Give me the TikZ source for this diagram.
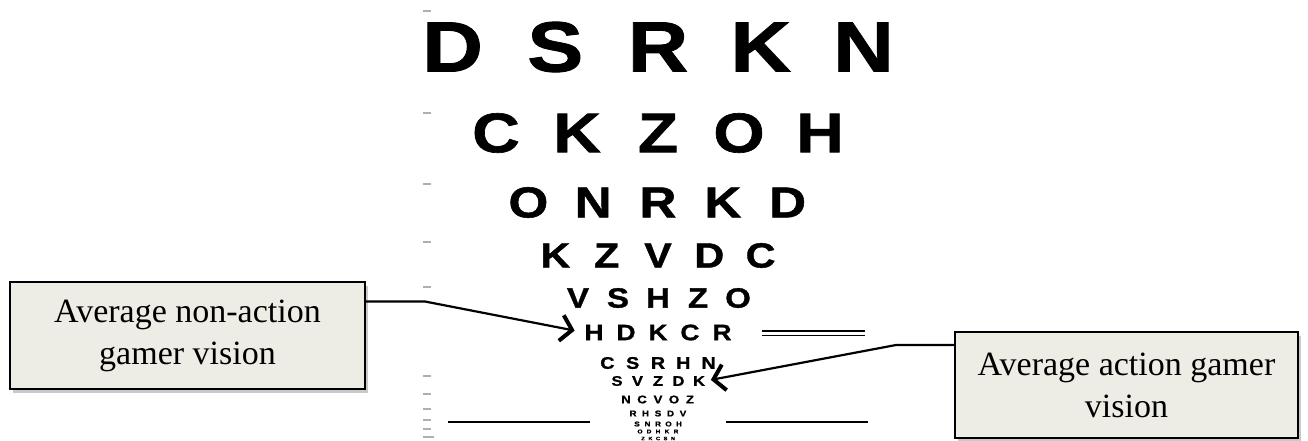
\documentclass[tikz,border=0pt]{standalone}
\usepackage{fontspec}
\setmainfont{Liberation Serif}
\newfontfamily\sloanfont[FakeStretch=1.18,FakeBold=1.2]{Liberation Sans}
\usetikzlibrary{arrows.meta,shadows,calc}
\definecolor{boxfill}{RGB}{238,237,229}
\definecolor{markgray}{RGB}{175,175,175}
\begin{document}
\begin{tikzpicture}[x=1pt,y=-1pt,
  letter/.style={inner sep=0pt, outer sep=0pt, text=black},
  callout/.style={draw=black, line width=2pt, fill=boxfill, align=center,
    inner sep=0pt, font=\fontsize{34}{42}\selectfont,
    drop shadow={shadow xshift=3pt, shadow yshift=-4pt, opacity=0.35, fill=black!60}},
  conn/.style={line width=2.2pt, line cap=round, line join=round,
    -{Straight Barb[length=11pt,width=26pt,line width=4pt]}},
  rule/.style={line width=2.4pt},
  tick/.style={fill=markgray}]
\useasboundingbox (0,0) rectangle (1308,440);
\fill[white] (0,0) rectangle (1308,440);

% eye chart rows
\foreach \r/\y/\h/\sp/\letters in {
  1/47/51/102.7/{D,S,R,K,N},
  2/133/40/81/{C,K,Z,O,H},
  3/202.5/31/64.8/{O,N,R,K,D},
  4/255.5/25/51.3/{K,Z,V,D,C},
  5/298/20/40/{V,S,H,Z,O},
  6/332.5/16/32/{H,D,K,C,R},
  7/363/12/25.3/{C,S,R,H,N},
  8/381/10/20.5/{S,V,Z,D,K},
  9/399.5/8/16/{N,C,V,O,Z},
  10/413.5/6/12.5/{R,H,S,D,V},
  11/424/5/10.5/{S,N,R,O,H},
  12/431.5/4/9/{O,D,H,K,R},
  13/438.5/3.5/7.5/{Z,K,C,S,N}} {
  \pgfmathsetmacro\fs{\h/0.716}
  \foreach \L [count=\i] in \letters {
    \node[letter, font=\sloanfont\bfseries\fontsize{\fs}{\fs}\selectfont]
      (r\r-\i) at ({658+(\i-3)*\sp},\y) {\L};
  }
}

% small row labels
\foreach \ty in {11,113,184,242,287,376,394,409,420,429}
  \fill[tick] (423,\ty-1.3) rectangle (431,\ty+1.3);
\fill[tick] (423,435.7) rectangle (434,438.3);

% rules
\draw[line width=1.5pt] (762,331) -- (865,331);
\draw[line width=1.5pt] (762,335.5) -- (865,335.5);
\draw[rule] (448,422) -- (590,422);
\draw[rule] (726,422) -- (868,422);

% callouts
\node[callout, minimum width=355pt, minimum height=107pt] (lbox) at (187.5,335.5)
  {Average non-action\\gamer vision};
\node[callout, minimum width=343pt, minimum height=106pt] (rbox) at (1126.5,385)
  {Average action gamer\\vision};

% connectors
\coordinate (lbend) at (425,301.5);
\coordinate (rbend) at (896,345);
\draw[conn, shorten >=10pt] (lbox.east |- lbend) -- (lbend) -- (r6-1.west);
\draw[conn, shorten >=6pt] (rbox.west |- rbend) -- (rbend) -- (r8-5.east);
\end{tikzpicture}
\end{document}
